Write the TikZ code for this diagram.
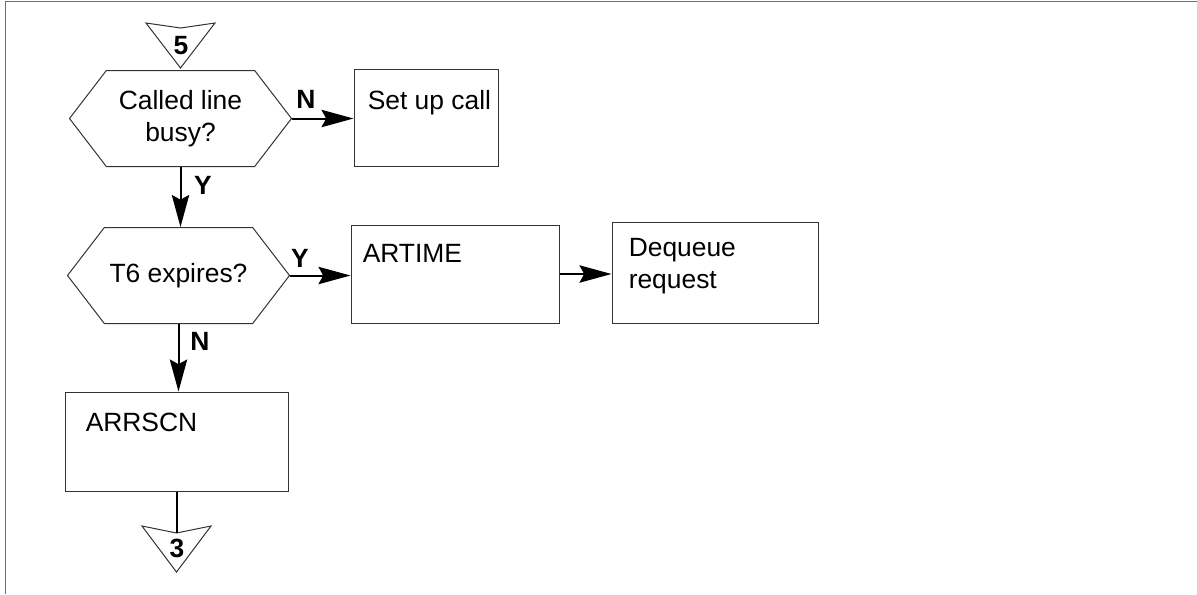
\documentclass[tikz,border=0pt]{standalone}
\usepackage{fontspec}
\setmainfont{Liberation Sans}
\usepackage{xcolor}
\usetikzlibrary{arrows.meta,positioning,shapes.symbols}
\definecolor{ink}{HTML}{000000}
\definecolor{edge}{HTML}{333333}
\definecolor{rim}{HTML}{6E6E6E}
\newcommand{\BoxF}{\fontsize{19.8}{24}\selectfont}
\tikzset{
  >={Stealth[length=24pt,width=13pt,inset=3.5pt]},
  frame/.style={draw=rim, line width=1.1pt},
  decision/.style={shape=signal, signal to=east and west, signal pointer angle=105,
                   draw=edge, line width=0.75pt, minimum width=166.5pt, minimum height=72pt,
                   inner sep=0pt, align=center, font=\BoxF},
  process/.style={rectangle, draw=edge, line width=0.75pt, inner sep=0pt},
  boxtext/.style={anchor=north west, inner sep=0pt, align=left, font=\BoxF},
  flow/.style={->, draw=ink, line width=1.5pt},
  yn/.style={font=\BoxF\bfseries, inner sep=0pt},
  offpage/.style={draw=edge, line width=0.75pt},
}
\begin{document}
\begin{tikzpicture}[x=0.75pt,y=-0.75pt, font=\BoxF]
  \useasboundingbox (0,0) rectangle (1197,594);
  \draw[frame] (5.5,594) -- (5.5,1.5) -- (1197,1.5);
  % entry connector
  \draw[offpage] (146,23) -- (180.5,28) -- (215,23) -- (180.5,68) -- cycle;
  \node[yn] (five) at (181,46) {5};
  % decisions
  \node[decision] (busy) at (180.5,118.5) {Called line\\busy?};
  \node[decision] (tsix) at (178.5,275.5) {T6 expires?};
  % processes
  \node[process, minimum width=108pt, minimum height=72.75pt,
        label={[boxtext, xshift=10.5pt, yshift=-16.5pt]north west:Set up call}] (setup) at (426,117.5) {};
  \node[process, minimum width=156pt, minimum height=73.5pt,
        label={[boxtext, xshift=9pt, yshift=-15pt]north west:ARTIME}] (artime) at (455,274) {};
  \node[process, minimum width=154.5pt, minimum height=75.75pt,
        label={[boxtext, xshift=12.75pt, yshift=-12.75pt]north west:Dequeue\\request}] (deq) at (715,272.5) {};
  \node[process, minimum width=167.25pt, minimum height=74.25pt,
        label={[boxtext, xshift=15.75pt, yshift=-15.75pt]north west:ARRSCN}] (arrscn) at (176.5,441.5) {};
  % exit connector
  \coordinate (inthree) at (176.5,533);
  \draw[offpage] (142,526) -- (inthree) -- (211,526) -- (176.5,572) -- cycle;
  \node[yn] (three) at (177,548) {3};
  % connectors
  \draw[flow] (busy.east) -- (busy.east -| setup.west);
  \draw[flow] (busy.south) -- (busy.south |- tsix.north);
  \draw[flow] (tsix.east) -- (tsix.east -| artime.west);
  \draw[flow] (artime.east) -- (artime.east -| deq.west);
  \draw[flow] (tsix.south) -- (tsix.south |- arrscn.north);
  \draw[draw=ink, line width=1.5pt] (arrscn.south) -- (inthree);
  % branch labels
  \node[yn] (busyn) at (306,99) {N};
  \node[yn] (busyy) at (203,185) {Y};
  \node[yn] (tsixy) at (300,258) {Y};
  \node[yn] (tsixn) at (200,341) {N};
\end{tikzpicture}
\end{document}
